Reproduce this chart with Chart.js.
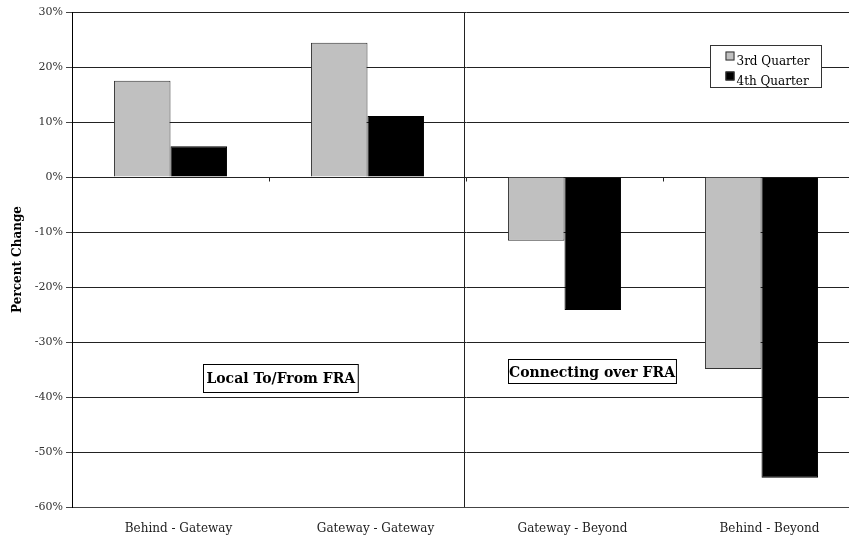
<!DOCTYPE html>
<html>
<head>
<meta charset="utf-8">
<script src="https://cdn.jsdelivr.net/npm/chart.js@4.4.0/dist/chart.umd.min.js"></script>
<style>
  html, body { margin: 0; padding: 0; overflow: hidden; background: #fff; }
  #wrap { width: 862px; height: 539px; }
</style>
</head>
<body>
<div id="wrap"><canvas id="c" width="862" height="539"></canvas></div>
<script>
// Traffic flow categories and quarterly percent changes
const categories = ['Behind - Gateway', 'Gateway - Gateway', 'Gateway - Beyond', 'Behind - Beyond'];
const q3Values = [17.5, 24.4, -11.6, -34.9];
const q4Values = [5.6, 11.1, -24.2, -54.7];
const seriesNames = ['3rd Quarter', '4th Quarter'];
const groupLabels = ['Local To/From FRA', 'Connecting over FRA'];
const yTicks = [30, 20, 10, 0, -10, -20, -30, -40, -50, -60];

const SERIF = '"DejaVu Serif", "Liberation Serif", serif';

// Divider between local and connecting groups, plus small ticks on the zero line
const dividerPlugin = {
  id: 'divider',
  afterDatasetsDraw(chart) {
    const { ctx, chartArea, scales: { x, y } } = chart;
    const ctrs = categories.map((_, i) => x.getPixelForTick(i));
    const y0 = Math.round(y.getPixelForValue(0)) + 0.5;
    ctx.save();
    ctx.strokeStyle = '#222';
    ctx.lineWidth = 1;
    for (let i = 0; i < ctrs.length - 1; i++) {
      const bx = Math.round((ctrs[i] + ctrs[i + 1]) / 2) + 0.5;
      ctx.beginPath();
      ctx.moveTo(bx, y0);
      ctx.lineTo(bx, y0 + 4);
      ctx.stroke();
    }
    const mid = Math.round((ctrs[1] + ctrs[2]) / 2) - 1.5;
    ctx.beginPath();
    ctx.moveTo(mid, chartArea.top);
    ctx.lineTo(mid, chartArea.bottom);
    ctx.stroke();
    ctx.restore();
  }
};

// Boxed group captions placed in data space
const captionPlugin = {
  id: 'captions',
  afterDatasetsDraw(chart) {
    const { ctx, scales: { x, y } } = chart;
    const step = x.getPixelForTick(1) - x.getPixelForTick(0);
    const spots = [
      { text: groupLabels[0], cx: x.getPixelForTick(0) + 0.56 * step, cy: y.getPixelForValue(-36.5), padX: 3, h: 28 },
      { text: groupLabels[1], cx: x.getPixelForTick(2) + 0.14 * step, cy: y.getPixelForValue(-35.3), padX: 1, h: 24 }
    ];
    ctx.save();
    ctx.font = 'bold 14px ' + SERIF;
    ctx.textBaseline = 'middle';
    ctx.textAlign = 'center';
    spots.forEach(s => {
      const w = ctx.measureText(s.text).width + s.padX * 2;
      const l = Math.round(s.cx - w / 2) + 0.5;
      const t = Math.round(s.cy - s.h / 2) + 0.5;
      ctx.fillStyle = '#fff';
      ctx.fillRect(l, t, w, s.h);
      ctx.strokeStyle = '#000';
      ctx.lineWidth = 1;
      ctx.strokeRect(l, t, w, s.h);
      ctx.fillStyle = '#000';
      ctx.fillText(s.text, s.cx, s.cy + 2);
    });
    ctx.restore();
  }
};

// Boxed legend inside the plot
const legendBoxPlugin = {
  id: 'legendBox',
  afterDatasetsDraw(chart) {
    const { ctx, scales: { x, y } } = chart;
    const step = x.getPixelForTick(1) - x.getPixelForTick(0);
    const left = Math.round(x.getPixelForTick(2) + 0.74 * step) + 0.5;
    const top = Math.round(y.getPixelForValue(24)) + 0.5;
    const w = 111, h = 42;
    ctx.save();
    ctx.fillStyle = '#fff';
    ctx.fillRect(left, top, w, h);
    ctx.strokeStyle = '#333';
    ctx.lineWidth = 1;
    ctx.strokeRect(left, top, w, h);
    ctx.font = '12px ' + SERIF;
    ctx.textBaseline = 'middle';
    ctx.textAlign = 'left';
    chart.data.datasets.forEach((ds, i) => {
      const rowY = top + 12 + i * 20;
      ctx.fillStyle = ds.backgroundColor;
      ctx.fillRect(left + 15, rowY - 6, 9, 9);
      ctx.strokeStyle = '#333';
      ctx.strokeRect(left + 15.5, rowY - 5.5, 8, 8);
      ctx.fillStyle = '#000';
      ctx.fillText(ds.label, left + 26, rowY + 4);
    });
    ctx.restore();
  }
};

new Chart(document.getElementById('c'), {
  type: 'bar',
  data: {
    labels: categories,
    datasets: [
      { label: seriesNames[0], data: q3Values, backgroundColor: '#c0c0c0', borderColor: '#333', borderWidth: 1 },
      { label: seriesNames[1], data: q4Values, backgroundColor: '#000', borderColor: '#000', borderWidth: 1 }
    ]
  },
  options: {
    responsive: false,
    animation: false,
    devicePixelRatio: 1,
    layout: { padding: { top: 12, right: 2, left: 0, bottom: 0 } },
    datasets: { bar: { categoryPercentage: 0.574, barPercentage: 1.0 } },
    plugins: { legend: { display: false }, tooltip: { enabled: false } },
    scales: {
      x: {
        grid: { display: false },
        border: { display: true, color: '#444', width: 1 },
        ticks: { color: '#222', font: { family: SERIF, size: 12 }, labelOffset: 8, padding: 7, maxRotation: 0 },
        afterFit(s) { s.height = 32; }
      },
      y: {
        min: -60, max: 30,
        afterBuildTicks(s) { s.ticks = yTicks.map(v => ({ value: v })); },
        grid: { color: '#222', lineWidth: 1, tickLength: 6, tickColor: '#444', drawTicks: true },
        border: { display: true, color: '#000', width: 1 },
        ticks: { color: '#333', font: { family: SERIF, size: 11 }, padding: 3, callback: v => v + '%' },
        title: { display: true, text: 'Percent Change', color: '#000', font: { family: SERIF, size: 12, weight: 'bold' }, padding: { top: 11, bottom: 0 } },
        afterFit(s) { s.width = 72; }
      }
    }
  },
  plugins: [dividerPlugin, captionPlugin, legendBoxPlugin]
});
</script>
</body>
</html>
